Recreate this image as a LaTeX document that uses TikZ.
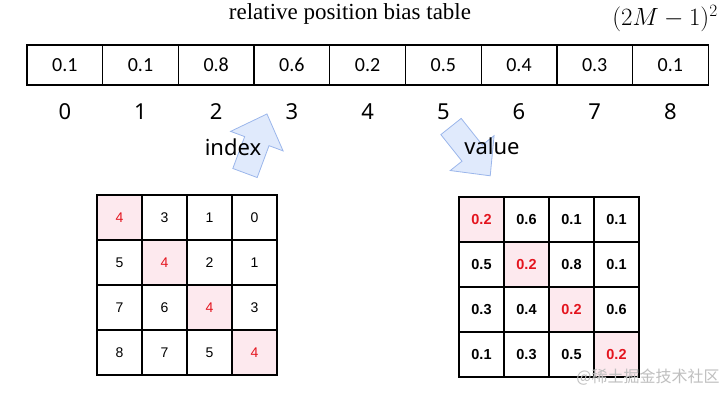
\documentclass[tikz,border=0pt]{standalone}
\usepackage{fontspec}
\usepackage{amsmath}
\usetikzlibrary{positioning,calc}
\newfontfamily\carlito{Carlito}
\newfontfamily\notosans{Noto Sans}
\newfontfamily\arialf{Liberation Sans}
\newfontfamily\timesf{Liberation Serif}
\newfontfamily\cjk{Noto Sans CJK SC}
\definecolor{diagCol}{RGB}{228,20,30}
\definecolor{diagFill}{RGB}{253,233,238}
\definecolor{arrCol}{RGB}{155,182,235}
\definecolor{arrFill}{RGB}{224,234,252}
\tikzset{
  cellbox/.style={draw,line width=1.3pt,minimum width=75.7pt,minimum height=40pt,
                  inner sep=0pt,font=\carlito\fontsize{20}{20}\selectfont},
  grid/.style={draw,line width=1.3pt,minimum size=45pt,inner sep=0pt,
               font=\arialf\fontsize{14}{14}\selectfont},
  diag/.style={grid,fill=diagFill,text=diagCol},
  vgrid/.style={grid,font=\arialf\bfseries\fontsize{14.5}{15}\selectfont},
  vdiag/.style={vgrid,fill=diagFill,text=diagCol},
  idx/.style={font=\notosans\fontsize{22}{22}\selectfont},
  blockarr/.style={draw=arrCol,fill=arrFill,line width=0.8pt},
}

\begin{document}
\begin{tikzpicture}[x=1pt,y=-1pt]
  \useasboundingbox (0,0) rectangle (728,399);
  \node[font=\timesf\fontsize{23}{23}\selectfont] (title) at (350,14) {relative position bias table};
  \node[font=\fontsize{24}{24}\selectfont] (size) at (665,19) {$(2M-1)^2$};
  % bias table and its indices
  \foreach \v [count=\i from 0] in {0.1,0.1,0.8,0.6,0.2,0.5,0.4,0.3,0.1}{
    \node[cellbox] (t\i) at ({64.8+75.7*\i},65) {\v};
    \node[idx] (n\i) at ({64.8+75.7*\i},112) {\i};
  }
  % block arrows
  \draw[blockarr,shift={(245,173)},rotate=69.6] (0,-13) -- (34,-13) -- (34,-28) -- (63,0) -- (34,28) -- (34,13) -- (0,13) -- cycle;
  \draw[blockarr,shift={(451,126.5)},rotate=-51.5] (0,-13) -- (34,-13) -- (34,-28) -- (63,0) -- (34,28) -- (34,13) -- (0,13) -- cycle;
  \node[idx] (idxlab) at (233,147) {index};
  \node[idx] (vallab) at (492,146) {value};
  % index matrix
  \foreach \row [count=\r] in {{4,3,1,0},{5,4,2,1},{7,6,4,3},{8,7,5,4}}
    \foreach \v [count=\c] in \row {
      \ifnum\r=\c\def\sty{diag}\else\def\sty{grid}\fi
      \node[\sty] (a-\r-\c) at ({74.5+45*\c},{172.5+45*\r}) {\v};
    }
  % value matrix
  \foreach \row [count=\r] in {{0.2,0.6,0.1,0.1},{0.5,0.2,0.8,0.1},{0.3,0.4,0.2,0.6},{0.1,0.3,0.5,0.2}}
    \foreach \v [count=\c] in \row {
      \ifnum\r=\c\def\sty{vdiag}\else\def\sty{vgrid}\fi
      \node[\sty] (b-\r-\c) at ({436.5+45*\c},{174.5+45*\r}) {\v};
    }
  \node[font=\cjk\fontsize{16}{16}\selectfont,text=black!25] (mark) at (648,377) {@稀土掘金技术社区};
\end{tikzpicture}
\end{document}
